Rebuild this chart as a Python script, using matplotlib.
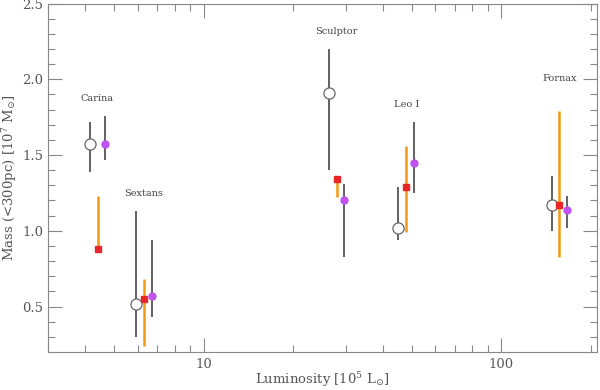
import numpy as np
import matplotlib
matplotlib.use("Agg")
import matplotlib.pyplot as plt
from matplotlib.ticker import MultipleLocator, LogLocator, NullFormatter, FixedLocator, FixedFormatter

galaxies = ["Carina", "Sextans", "Sculptor", "Leo I", "Fornax"]

# open circles (grey)
lum_a = [4.15, 5.91, 26.4, 45.1, 148.0]
mass_a = [1.57, 0.52, 1.91, 1.02, 1.17]
lo_a = [1.39, 0.30, 1.40, 0.94, 1.00]
hi_a = [1.72, 1.13, 2.20, 1.29, 1.36]

# red squares (orange bars)
lum_b = [4.41, 6.30, 28.0, 48.0, 157.0]
mass_b = [0.88, 0.55, 1.34, 1.29, 1.17]
lo_b = [0.88, 0.24, 1.22, 0.99, 0.83]
hi_b = [1.23, 0.68, 1.34, 1.56, 1.79]

# purple filled circles
lum_c = [4.67, 6.69, 29.7, 50.8, 166.0]
mass_c = [1.57, 0.57, 1.20, 1.45, 1.14]
lo_c = [1.47, 0.43, 0.83, 1.25, 1.02]
hi_c = [1.76, 0.94, 1.31, 1.72, 1.23]

label_x = [4.4, 6.3, 28.0, 48.0, 157.0]
label_y = [1.875, 1.248, 2.317, 1.835, 2.005]

plt.rcParams['font.family'] = ['DejaVu Serif']
plt.rcParams['mathtext.fontset'] = 'dejavuserif'

grey = '#555555'
axcol = '#888888'
txtcol = '#555555'

fig = plt.figure(figsize=(6, 3.9), dpi=100)
ax = fig.add_axes([0.08, 0.0974, 0.915, 0.8936])

def err(m, lo, hi):
    m = np.array(m); lo = np.array(lo); hi = np.array(hi)
    return np.vstack([m - lo, hi - m])

ax.errorbar(lum_a, mass_a, yerr=err(mass_a, lo_a, hi_a), fmt='o', mfc='white', mec='#666666',
            ms=8, mew=0.9, ecolor=grey, elinewidth=1.3, capsize=0, zorder=2)
ax.errorbar(lum_b, mass_b, yerr=err(mass_b, lo_b, hi_b), fmt='s', mfc='#e8262a', mec='#e8262a',
            ms=5, ecolor='#f29a0e', elinewidth=1.8, capsize=0, zorder=3)
ax.errorbar(lum_c, mass_c, yerr=err(mass_c, lo_c, hi_c), fmt='o', mfc='#c052f0', mec='#c052f0',
            ms=5, ecolor=grey, elinewidth=1.3, capsize=0, zorder=3)

for name, x, y in zip(galaxies, label_x, label_y):
    ax.text(x, y, name, ha='center', va='center', fontsize=7, color='#444444')

ax.set_xscale('log')
ax.set_xlim(3, 210)
ax.set_ylim(0.2, 2.5)
ax.xaxis.set_major_locator(FixedLocator([10, 100]))
ax.xaxis.set_major_formatter(FixedFormatter(['10', '100']))
ax.xaxis.set_minor_locator(LogLocator(base=10, subs=np.arange(2, 10)))
ax.xaxis.set_minor_formatter(NullFormatter())
ax.yaxis.set_major_locator(MultipleLocator(0.5))
ax.yaxis.set_minor_locator(MultipleLocator(0.1))
ax.yaxis.set_major_formatter(matplotlib.ticker.FormatStrFormatter('%.1f'))

ax.tick_params(which='both', direction='in', top=True, right=True, color=axcol,
               labelcolor=txtcol, labelsize=9.5, width=0.8)
ax.tick_params(which='major', length=10)
ax.tick_params(which='minor', length=5)
ax.tick_params(axis='x', pad=4)
for s in ax.spines.values():
    s.set_color(axcol)
    s.set_linewidth(0.8)

ax.set_xlabel(r'Luminosity [10$^5$ L$_{\odot}$]', color=txtcol, fontsize=9.5, labelpad=0)
ax.set_ylabel(r'Mass (<300pc) [10$^7$ M$_{\odot}$]', color=txtcol, fontsize=9.5, labelpad=2)

fig.savefig('out.png', dpi=100)
